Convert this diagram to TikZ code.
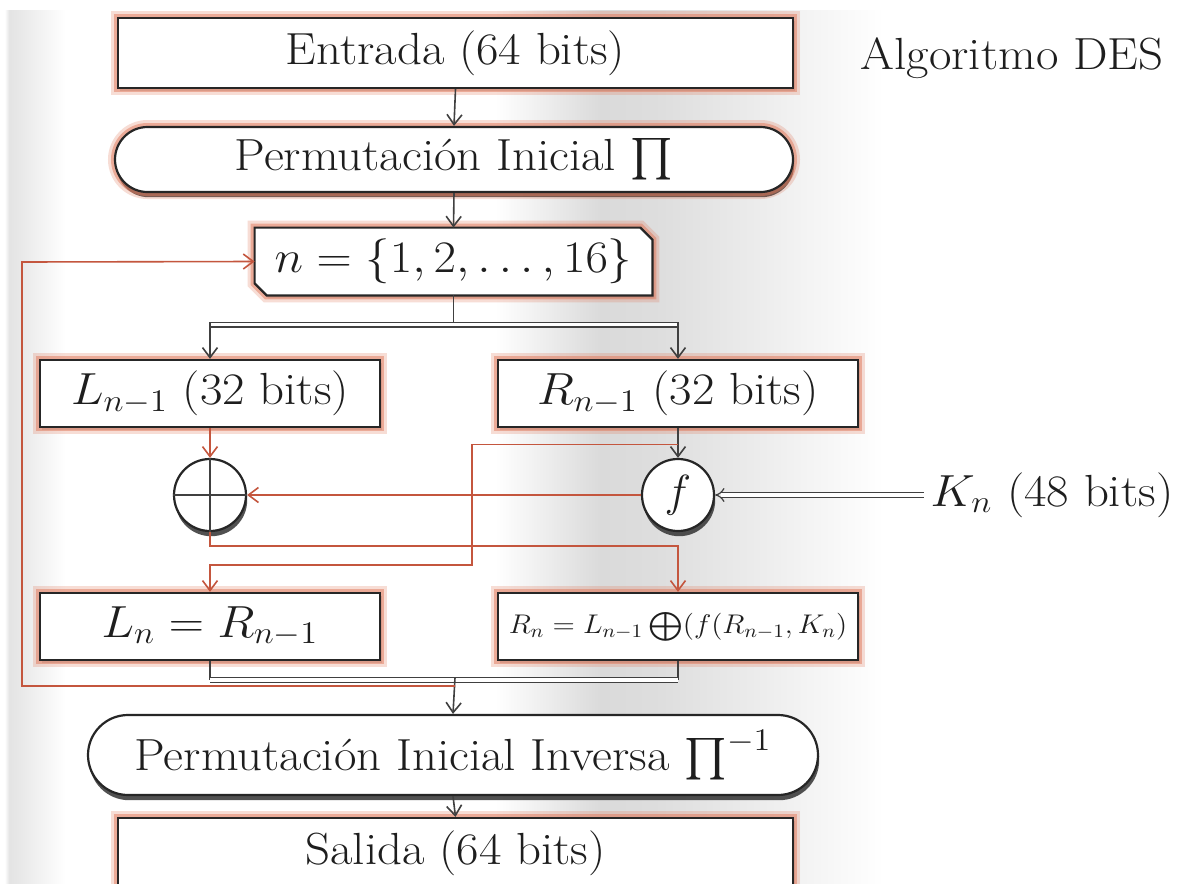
\documentclass[tikz,border=0pt]{standalone}
\usepackage{fix-cm}
\usepackage{exscale}
\usetikzlibrary{arrows.meta,shadows,calc}
\definecolor{ln}{HTML}{C4563E}
\definecolor{glow}{HTML}{E0785A}
\definecolor{bgg}{HTML}{DADADA}
\definecolor{txt}{HTML}{1E1E1E}
\newcommand\sx[1]{\scalebox{1.085}[1]{#1}}
\pgfdeclarehorizontalshading{bgshade}{100bp}{color(0bp)=(white); color(25.2bp)=(white); color(25.4bp)=(bgg!75); color(27.8bp)=(white); color(46bp)=(white); color(50.5bp)=(bgg); color(53bp)=(bgg!90); color(62.5bp)=(white); color(100bp)=(white)}
\pgfdeclarelayer{back}
\pgfdeclarelayer{bg}
\pgfsetlayers{back,bg,main}
\tikzset{
  glowing/.style={preaction={draw=glow, line width=7pt, opacity=0.25}, preaction={draw=glow, line width=4pt, opacity=0.5}},
  softshadow/.style={drop shadow={shadow xshift=1pt, shadow yshift=-1.5pt, opacity=0.35}},
  hardshadow/.style={drop shadow={shadow xshift=0.6pt, shadow yshift=-2.6pt, opacity=0.85, fill=black!80}},
  boxbase/.style={draw=black!85, line width=1.1pt, fill=white, text=txt, inner sep=0pt},
  sqbox/.style={boxbase, softshadow, glowing, rectangle, minimum height=33.5pt},
  blk/.style={draw=black!75, line width=0.8pt},
  org/.style={draw=ln, line width=0.8pt},
  tipb/.style={-{Straight Barb[length=5pt,width=7.5pt]}},
  dbl/.style={draw=black!75, line width=0.6pt, double=white, double distance=1.8pt},
}
\begin{document}
\begin{tikzpicture}[x=0.5pt,y=-0.5pt,font=\fontsize{22.5}{27}\selectfont]
\useasboundingbox (0,0) rectangle (1179,884);
\clip (0,0) rectangle (1179,884);
\begin{pgfonlayer}{back}
  \fill[white] (0,0) rectangle (1179,884);
  \shade[shading=bgshade] (0,10) rectangle (1179,884);
\end{pgfonlayer}

% nodes
\node[sqbox, minimum width=337.5pt, minimum height=35pt] (ent) at (455.5,53) {\sx{Entrada (64 bits)}};
\node[boxbase, hardshadow, glowing, minimum width=339pt, minimum height=32.5pt, rounded corners=16.25pt] (pi) at (454,159.5) {\sx{Permutaci\'on Inicial $\prod$}};
\node[text=txt, minimum width=198.5pt, minimum height=33.5pt, inner sep=0pt] (nbox) at (453.5,261.5) {\sx{$n=\{1,2,\ldots,16\}$}};
\begin{pgfonlayer}{bg}
  \draw[boxbase, softshadow, glowing] (nbox.north west) -- ([xshift=-6pt]nbox.north east) -- ([yshift=-6pt]nbox.north east) -- (nbox.south east) -- ([xshift=6pt]nbox.south west) -- ([yshift=6pt]nbox.south west) -- cycle;
\end{pgfonlayer}
\node[sqbox, minimum width=170pt] (L1) at (210,393.5) {\sx{$L_{n-1}$ (32 bits)}};
\node[sqbox, minimum width=180pt] (R1) at (678,393.5) {\sx{$R_{n-1}$ (32 bits)}};
\node[boxbase, hardshadow, circle, minimum size=36pt] (xor) at (210,495) {};
\node[boxbase, hardshadow, circle, minimum size=36pt] (f) at (678,495) {$f$};
\node[text=txt] (K) at (1052,495) {\sx{$K_n$ (48 bits)}};
\node[sqbox, minimum width=170pt] (L2) at (210,626.5) {\sx{$L_n=R_{n-1}$}};
\node[sqbox, minimum width=180pt, font=\fontsize{13.5}{16}\selectfont] (R2) at (678,626.5) {\sx{$R_n=L_{n-1}\bigoplus(f(R_{n-1},K_n)$}};
\node[boxbase, hardshadow, minimum width=365pt, minimum height=40pt, rounded corners=20pt] (pinv) at (453,755) {\sx{Permutaci\'on Inicial Inversa $\prod^{-1}$}};
\node[sqbox, minimum width=337.5pt, minimum height=35pt] (sal) at (455.5,853) {\sx{Salida (64 bits)}};
\node[text=txt] (des) at (1012,58) {\sx{Algoritmo DES}};

\draw[blk] (xor.north) -- (xor.south) (xor.west) -- (xor.east);

% coordinates
\coordinate (sp) at (455,324.5);
\coordinate (mg) at (455,680);
\coordinate (fb) at (455,686);
\coordinate (lft) at (22,262);
\coordinate (c2) at (472,565);
\coordinate (c3) at (210,546);
\coordinate (m1) at ($(R1.south)!0.55!(f.north)$);

% connectors
\draw[blk,tipb] (ent.south) -- (pi.north);
\draw[blk,tipb] (pi.south) -- (nbox.north);
\draw[blk] (nbox.south) -- (nbox.south |- sp);
\draw[dbl] (L1.north |- sp) -- (R1.north |- sp);
\draw[blk,tipb] ([yshift=1.2pt]L1.north |- sp) -- (L1.north);
\draw[blk,tipb] ([yshift=1.2pt]R1.north |- sp) -- (R1.north);

\draw[org,tipb] (L1.south) -- (xor.north);
\draw[blk,tipb] (R1.south) -- (f.north);
\draw[org,tipb] (m1) -| (c2) -| (L2.north);
\draw[org,tipb] (f.west) -- (xor.east);
\draw[org,tipb] (xor.south) -- (c3) -| (R2.north);
\draw[dbl,-{Implies}] (K.west) -- (f.east);

\draw[blk] (L2.south) -- (L2.south |- mg);
\draw[blk] (R2.south) -- (R2.south |- mg);
\draw[dbl] (L2.south |- mg) -- (R2.south |- mg);
\draw[blk,tipb] ([yshift=1.2pt]mg) -- (pinv.north);
\draw[org,tipb] (fb) -| (lft) -- (nbox.west);
\draw[blk,tipb] (pinv.south) -- (sal.north);
\end{tikzpicture}
\end{document}
